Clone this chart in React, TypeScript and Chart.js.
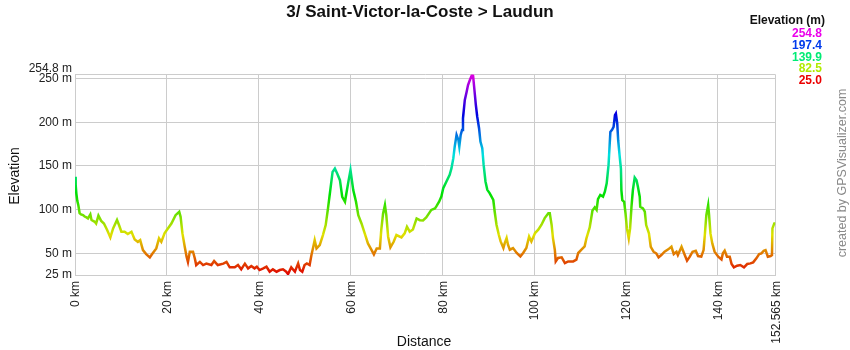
import { useEffect, useRef } from "react";
import { Chart, registerables } from "chart.js";

Chart.register(...registerables);

const chartTitle = "3/ Saint-Victor-la-Coste > Laudun";
const xAxisTitle = "Distance";
const yAxisTitle = "Elevation";
const legendTitle = "Elevation (m)";
const creditText = "created by GPSVisualizer.com";

const minElevation = 25;
const maxElevation = 254.8;
const totalDistance = 152.565;

const legendValues = [254.8, 197.4, 139.9, 82.5, 25.0];

const yTickValues = [25, 50, 100, 150, 200, 250, 254.8];
const yTickLabels = ["25 m", "50 m", "100 m", "150 m", "200 m", "250 m", "254.8 m"];
const xTickValues = [0, 20, 40, 60, 80, 100, 120, 140, 152.565];
const xTickLabels = ["0 km", "20 km", "40 km", "60 km", "80 km", "100 km", "120 km", "140 km", "152.565 km"];

const distanceKm = [
  0, 0.15, 0.3, 0.5, 0.73, 1.0, 1.3, 1.74, 2.1, 2.5, 2.83, 3.34, 3.6, 4.3, 4.6, 5.1, 5.7, 6.3, 7.0, 7.7,
  8.3, 9.15, 9.6, 10.1, 10.8, 11.5, 12.3, 13.0, 13.7, 14.2, 14.8, 15.5, 16.3, 16.8, 17.7, 18.3, 18.8, 19.5, 20.0, 21.0,
  21.9, 22.7, 23.0, 23.4, 23.9, 24.3, 24.6, 25.0, 25.7, 26.1, 26.4, 27.2, 27.9, 28.6, 29.7, 30.3, 31.1, 32.3, 33.0, 33.7,
  34.8, 35.5, 36.2, 37.0, 37.7, 38.4, 39.1, 39.6, 40.2, 41.0, 41.7, 42.4, 43.1, 43.9, 44.6, 45.3, 46.0, 46.4, 47.1, 47.9,
  48.6, 49.0, 49.5, 50.0, 50.5, 51.1, 51.5, 51.9, 52.2, 52.6, 53.3, 54.0, 54.6, 55.1, 55.6, 56.1, 56.6, 57.1, 57.7, 58.2,
  58.8, 59.1, 59.6, 60.0, 60.6, 61.2, 61.7, 62.4, 63.1, 63.8, 64.6, 65.1, 65.7, 66.4, 66.7, 67.1, 67.5, 67.8, 68.2, 68.7,
  69.4, 70.0, 71.1, 71.8, 72.3, 72.9, 73.6, 74.4, 75.1, 75.8, 76.5, 77.6, 78.4, 78.7, 79.3, 79.8, 80.2, 80.9, 81.6, 82.0,
  82.4, 82.7, 83.1, 83.5, 83.7, 84.0, 84.3, 84.5, 84.9, 85.3, 85.6, 86.0, 86.5, 86.7, 87.1, 87.3, 87.6, 88.0, 88.3, 88.7,
  89.0, 89.4, 89.8, 90.3, 91.1, 91.4, 91.8, 92.3, 92.7, 93.3, 93.6, 94.0, 94.3, 94.7, 95.4, 96.2, 97.0, 97.6, 98.3, 98.9,
  99.4, 100.2, 100.9, 101.6, 102.3, 103.1, 103.4, 103.8, 104.1, 104.5, 104.7, 105.2, 106.0, 106.7, 107.4, 108.5, 109.2, 109.6, 110.3, 111.0,
  111.4, 112.1, 112.7, 113.2, 113.6, 113.9, 114.4, 115.0, 115.4, 115.8, 116.2, 116.6, 117.0, 117.3, 117.6, 117.8, 118.1, 118.3, 118.6, 118.9,
  119.0, 119.2, 119.6, 119.9, 120.2, 120.6, 120.9, 121.2, 121.5, 121.9, 122.3, 122.6, 123.0, 123.1, 123.7, 124.1, 124.4, 125.0, 125.4, 126.0,
  126.6, 127.1, 127.7, 128.4, 129.2, 129.9, 130.4, 131.0, 131.3, 132.1, 132.8, 133.3, 133.9, 134.5, 135.2, 135.7, 136.4, 136.9, 137.2, 137.5,
  137.9, 138.1, 138.4, 138.8, 139.3, 140.1, 140.8, 141.1, 141.5, 142.0, 142.6, 143.0, 143.5, 144.2, 144.9, 145.7, 146.4, 147.1, 147.7, 148.4,
  149.0, 149.5, 150.0, 150.4, 150.9, 151.5, 151.8, 151.9, 152.3, 152.565,
];

const elevationM = [
  137.5, 128, 118, 110, 105, 96, 94.5, 93.6, 92, 91, 89.8, 94.4, 88, 86, 84, 93, 87, 84, 76.5, 68,
  78.4, 88, 82, 74.6, 74.6, 72, 74.6, 65.8, 63, 65, 53.6, 49, 45.2, 49, 55.5, 67, 63, 72.7, 76.5, 84,
  93.6, 97.5, 91.7, 72.7, 57.4, 46, 40, 51.7, 51.7, 44, 36.4, 40, 36.4, 38, 36.4, 41, 36.4, 38, 40, 33.8,
  33.8, 36.4, 31.5, 38, 32.6, 35.3, 32.6, 34.5, 30.7, 32.6, 34.5, 28.8, 31.5, 28.8, 30.7, 31.5, 28.8, 26, 33.8, 28.8,
  38.3, 30.7, 28.8, 36.4, 38.3, 36.4, 47.9, 57.4, 65, 55.5, 59.3, 70.8, 82.2, 101.3, 122.3, 143.2, 147, 141.3, 133.7, 114.6,
  108.9, 118.4, 133.7, 145.1, 122.3, 108.9, 93.6, 84.1, 72.7, 61.2, 53.6, 48.6, 55.5, 55.5, 76.5, 95.6, 105.1, 93.6, 68.9, 56.7,
  63.1, 70.8, 68.1, 72.7, 80.3, 74.6, 77.2, 89.8, 87.8, 87.5, 91, 99.6, 101.3, 103.6, 109, 115, 124.5, 132.2, 139.8, 147.4,
  158.9, 172.2, 185.6, 179.8, 172.2, 185.6, 191.3, 204.6, 225.6, 235.1, 242.8, 248.5, 254.8, 253.5, 231.3, 219.9, 206.5, 193.2, 177.9, 170.3,
  151.2, 132.2, 122.6, 118.8, 111.2, 97.8, 82.6, 71.1, 63.5, 55.9, 61.6, 67.3, 59.7, 54, 55.9, 50.2, 46.4, 50.2, 55.9, 69.2,
  63.5, 73.1, 76.9, 82.6, 90.2, 95.9, 95.9, 82.6, 67.3, 54, 40.6, 44.5, 45.2, 38.7, 40.6, 40.6, 42.5, 50.2, 54, 57.8,
  67.3, 79.5, 99, 102.5, 99.6, 112, 116.7, 114.8, 120.5, 130.1, 150.9, 189, 191.7, 194.7, 208.1, 210, 198.5, 179.5, 162.3, 147,
  122.3, 110.8, 108.9, 95.6, 78.4, 67, 78.4, 103.2, 122.3, 136.7, 133.7, 126.1, 114.6, 103.2, 101.3, 97.5, 82.2, 72.7, 57.4, 51.7,
  49.8, 45.2, 47.9, 51.7, 54.4, 57.4, 49, 51.7, 47.9, 57.4, 47.9, 41.4, 46, 51.7, 52.8, 46.7, 46, 53.6, 72.7, 93.6,
  105.1, 93.6, 72.7, 61.2, 51.7, 46, 42.9, 49.8, 52.8, 46, 46, 37.6, 33.8, 35.7, 36.4, 33.8, 37.6, 38.3, 39.5, 44.1,
  49, 49.8, 52.8, 53.6, 46, 46.7, 47.9, 78.4, 84.1, 84.1,
];

const FONT = "Arial, 'Liberation Sans', Helvetica, sans-serif";

function colorFor(e: number, light = 44): string {
  const t = Math.max(0, Math.min(1, (e - minElevation) / (maxElevation - minElevation)));
  return `hsl(${(300 * t).toFixed(1)}, 100%, ${light}%)`;
}

const textPlugin = {
  id: "textPlugin",
  afterDraw(chart: any) {
    const ctx = chart.ctx as CanvasRenderingContext2D;
    const xs = chart.scales.x;
    const ys = chart.scales.y;
    ctx.save();

    // Title
    ctx.fillStyle = "#111";
    ctx.font = `bold 17px ${FONT}`;
    ctx.textAlign = "center";
    ctx.textBaseline = "middle";
    ctx.fillText(chartTitle, 420, 12);

    // Legend
    ctx.textAlign = "right";
    ctx.font = `bold 12px ${FONT}`;
    ctx.fillStyle = "#111";
    ctx.fillText(legendTitle, 825, 21);
    legendValues.forEach((v, i) => {
      ctx.fillStyle = colorFor(v, 46);
      ctx.fillText(v.toFixed(1), 822, 34 + i * 11.7);
    });

    // Y tick labels
    ctx.font = `12px ${FONT}`;
    ctx.fillStyle = "#222";
    ctx.textAlign = "right";
    yTickValues.forEach((v, i) => {
      let y = ys.getPixelForValue(v);
      if (v === maxElevation) y -= 6;
      ctx.fillText(yTickLabels[i], 72, y);
    });

    // X tick labels (rotated)
    xTickValues.forEach((v, i) => {
      const x = xs.getPixelForValue(v);
      ctx.save();
      ctx.translate(x + 1, 281);
      ctx.rotate(-Math.PI / 2);
      ctx.textAlign = "right";
      ctx.textBaseline = "middle";
      ctx.fillText(xTickLabels[i], 0, 0);
      ctx.restore();
    });

    // Axis titles
    ctx.font = `14px ${FONT}`;
    ctx.fillStyle = "#111";
    ctx.textAlign = "center";
    ctx.textBaseline = "middle";
    ctx.fillText(xAxisTitle, 424, 342);
    ctx.save();
    ctx.translate(15, 176);
    ctx.rotate(-Math.PI / 2);
    ctx.fillText(yAxisTitle, 0, 0);
    ctx.restore();

    // Credit
    ctx.font = `12.5px ${FONT}`;
    ctx.fillStyle = "#8a8a8a";
    ctx.save();
    ctx.translate(843, 173);
    ctx.rotate(-Math.PI / 2);
    ctx.fillText(creditText, 0, 0);
    ctx.restore();

    ctx.restore();
  },
};

export default function App() {
  const canvasRef = useRef<HTMLCanvasElement | null>(null);

  useEffect(() => {
    const canvas = canvasRef.current;
    if (!canvas) return;
    const points = distanceKm.map((d, i) => ({ x: d, y: elevationM[i] }));

    const chart = new Chart(canvas, {
      type: "line",
      data: {
        datasets: [
          {
            data: points,
            borderWidth: 2.5,
            pointRadius: 0,
            tension: 0,
            fill: false,
            borderColor: (c: any) => {
              const area = c.chart.chartArea;
              if (!area) return "#e00";
              const g = c.chart.ctx.createLinearGradient(0, area.bottom, 0, area.top);
              for (let k = 0; k <= 20; k++) {
                const t = k / 20;
                g.addColorStop(t, colorFor(minElevation + t * (maxElevation - minElevation)));
              }
              return g;
            },
          },
        ],
      },
      options: {
        responsive: false,
        animation: false,
        devicePixelRatio: 1,
        layout: { padding: { top: 74.5, right: 74.5, left: 0, bottom: 0 } },
        plugins: {
          legend: { display: false },
          tooltip: { enabled: false },
          title: { display: false },
        },
        scales: {
          x: {
            type: "linear",
            min: 0,
            max: totalDistance,
            afterBuildTicks: (s: any) => {
              s.ticks = xTickValues.map((v) => ({ value: v }));
            },
            afterFit: (s: any) => {
              s.height = 75;
            },
            ticks: { display: false },
            grid: { color: "#cccccc", lineWidth: 1, drawTicks: false },
            border: { display: true, color: "#cccccc" },
          },
          y: {
            type: "linear",
            min: minElevation,
            max: maxElevation,
            afterBuildTicks: (s: any) => {
              s.ticks = yTickValues.map((v) => ({ value: v }));
            },
            afterFit: (s: any) => {
              s.width = 75;
            },
            ticks: { display: false },
            grid: { color: "#cccccc", lineWidth: 1, drawTicks: false },
            border: { display: true, color: "#cccccc" },
          },
        },
      },
      plugins: [textPlugin],
    });

    return () => chart.destroy();
  }, []);

  return (
    <div style={{ position: "absolute", left: 0, top: 0, width: 850, height: 350, background: "#fff" }}>
      <canvas ref={canvasRef} width={850} height={350} style={{ display: "block" }} />
    </div>
  );
}
